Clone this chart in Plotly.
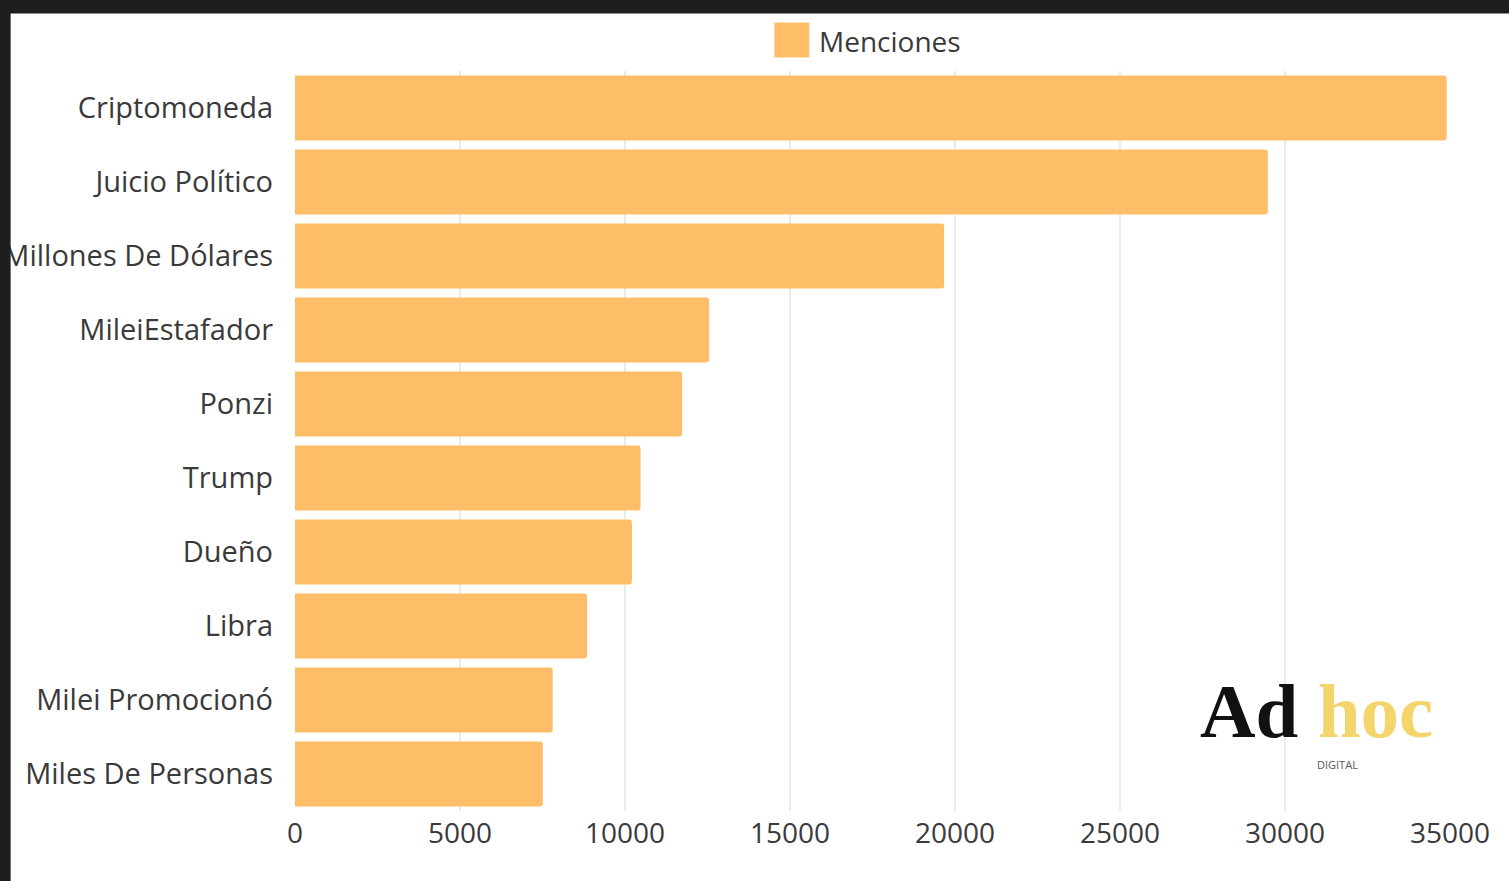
import plotly.graph_objects as go

categories = ["Criptomoneda", "Juicio Político", "Millones De Dólares", "MileiEstafador",
              "Ponzi", "Trump", "Dueño", "Libra", "Milei Promocionó", "Miles De Personas"]
menciones = [34900, 29480, 19670, 12550, 11730, 10470, 10210, 8850, 7810, 7510]
x_ticks = [0, 5000, 10000, 15000, 20000, 25000, 30000, 35000]
series_name = "Menciones"

W, H = 1509, 881
L, R, T, B = 294.5, 1450, 70.5, 811
pw, ph = R - L, B - T

def px(x):
    return (x - L) / pw

def py(y):
    return (B - y) / ph

BAR = "#FEBD67"
TXT = "#3a3a3a"

fig = go.Figure()
fig.add_trace(go.Bar(
    y=categories, x=menciones, orientation="h", name=series_name,
    marker=dict(color=BAR, line=dict(width=0)), showlegend=False,
))

fig.update_layout(
    width=W, height=H,
    margin=dict(l=L, r=W - R, t=T, b=H - B, autoexpand=False),
    paper_bgcolor="white", plot_bgcolor="white",
    bargap=0.12, barcornerradius=3,
    font=dict(family="Open Sans", size=28, color=TXT),
    xaxis=dict(range=[0, 35000], tickvals=x_ticks, ticktext=[str(v) for v in x_ticks],
               showgrid=True, gridcolor="#ebebeb", gridwidth=1.5, zeroline=False,
               showline=False, ticks="", ticklabelstandoff=3,
               tickfont=dict(family="Open Sans", size=28, color=TXT)),
    yaxis=dict(autorange="reversed", showgrid=False, zeroline=False, showline=False,
               ticks="", ticklabelstandoff=21,
               tickfont=dict(family="Open Sans", size=29, color=TXT)),
)

shapes = []
# legend swatch
shapes.append(dict(type="rect", xref="paper", yref="paper", x0=px(774), x1=px(809),
                   y0=py(57), y1=py(22), fillcolor=BAR, line=dict(width=0), layer="above"))
# dark frame bands
shapes.append(dict(type="rect", xref="paper", yref="paper", x0=px(-5), x1=px(W + 5),
                   y0=py(13), y1=py(-5), fillcolor="#1e1e1e", line=dict(width=0), layer="above"))
shapes.append(dict(type="rect", xref="paper", yref="paper", x0=px(-5), x1=px(10),
                   y0=py(H + 5), y1=py(-5), fillcolor="#1e1e1e", line=dict(width=0), layer="above"))
fig.update_layout(shapes=shapes)

annotations = [
    dict(text=series_name, xref="paper", yref="paper", x=px(817), y=py(40),
         xanchor="left", yanchor="middle", showarrow=False,
         font=dict(family="Open Sans", size=28, color=TXT)),
    dict(text="<b>Ad</b> <b><span style='color:#F4D56C'>hoc</span></b>", xref="paper", yref="paper",
         x=px(1198), y=py(711), xanchor="left", yanchor="middle", showarrow=False,
         font=dict(family="Liberation Serif", size=77, color="#111111")),
    dict(text="DIGITAL", xref="paper", yref="paper", x=px(1315), y=py(764),
         xanchor="left", yanchor="middle", showarrow=False,
         font=dict(family="Open Sans", size=11, color="#555555")),
]
fig.update_layout(annotations=annotations)

fig.write_html("out.html", config={"displayModeBar": False},
               post_script="document.body.style.margin='0';document.body.style.background='#1e1e1e';")
